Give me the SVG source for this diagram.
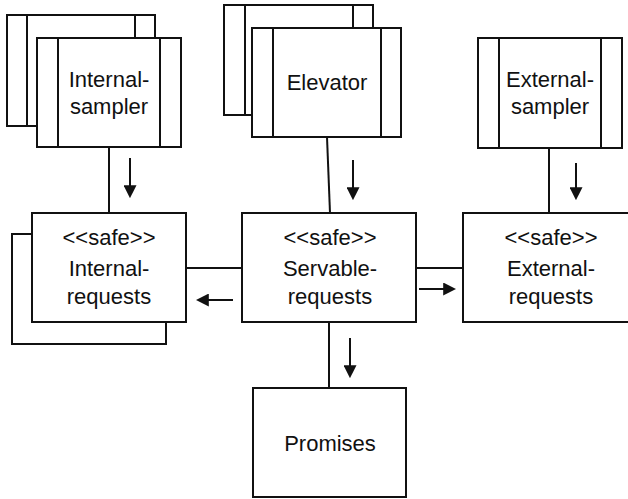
<svg xmlns="http://www.w3.org/2000/svg" width="628" height="499" viewBox="0 0 628 499">
  <style>
    .box { fill: #fff; stroke: #111; stroke-width: 2; }
    .edge { fill: none; stroke: #111; stroke-width: 2; }
    .flow { fill: none; stroke: #111; stroke-width: 2; marker-end: url(#head); }
    text { font-family: "Liberation Sans", Arial, sans-serif; font-size: 22px; fill: #111; text-anchor: middle; }
  </style>
  <defs>
    <marker id="head" viewBox="0 0 12 12" refX="10" refY="6" markerWidth="6.5" markerHeight="6.5" markerUnits="strokeWidth" orient="auto">
      <path d="M0,0 L12,6 L0,12 Z" fill="#111"/>
    </marker>
  </defs>

  <rect width="628" height="499" fill="#fff"/>

  <!-- connectors -->
  <g id="connectors">
    <line class="edge" x1="109" y1="147" x2="109" y2="213"/>
    <line class="edge" x1="327" y1="137" x2="330" y2="213"/>
    <line class="edge" x1="549" y1="148" x2="549" y2="213"/>
    <line class="edge" x1="186" y1="268" x2="242" y2="268"/>
    <line class="edge" x1="416" y1="268" x2="463" y2="268"/>
    <line class="edge" x1="329" y1="322" x2="329" y2="388"/>
    <line class="flow" x1="130" y1="158" x2="130" y2="196"/>
    <line class="flow" x1="353" y1="160" x2="353" y2="198"/>
    <line class="flow" x1="576" y1="163" x2="576" y2="198"/>
    <line class="flow" x1="233" y1="300" x2="198" y2="300"/>
    <line class="flow" x1="419" y1="289" x2="454" y2="289"/>
    <line class="flow" x1="350" y1="338" x2="350" y2="376"/>
  </g>

  <!-- active class: Internal-sampler (stacked) -->
  <g id="internal-sampler">
    <rect class="box" x="7" y="15" width="148" height="111"/>
    <line class="edge" x1="27" y1="15" x2="27" y2="126"/>
    <line class="edge" x1="135" y1="15" x2="135" y2="126"/>
    <rect class="box" x="37" y="38" width="144" height="109"/>
    <line class="edge" x1="58" y1="38" x2="58" y2="147"/>
    <line class="edge" x1="160" y1="38" x2="160" y2="147"/>
    <text x="109" y="87">Internal-</text>
    <text x="109" y="114">sampler</text>
  </g>

  <!-- active class: Elevator (stacked) -->
  <g id="elevator">
    <rect class="box" x="224" y="5" width="149" height="110"/>
    <line class="edge" x1="245" y1="5" x2="245" y2="115"/>
    <line class="edge" x1="353" y1="5" x2="353" y2="115"/>
    <rect class="box" x="252" y="28" width="149" height="109"/>
    <line class="edge" x1="273" y1="28" x2="273" y2="137"/>
    <line class="edge" x1="381" y1="28" x2="381" y2="137"/>
    <text x="327" y="90">Elevator</text>
  </g>

  <!-- active class: External-sampler -->
  <g id="external-sampler">
    <rect class="box" x="478" y="38" width="144" height="110"/>
    <line class="edge" x1="499" y1="38" x2="499" y2="148"/>
    <line class="edge" x1="601" y1="38" x2="601" y2="148"/>
    <text x="550" y="87">External-</text>
    <text x="550" y="114">sampler</text>
  </g>

  <!-- passive class: Internal-requests (stacked) -->
  <g id="internal-requests">
    <rect class="box" x="12" y="234" width="154" height="110"/>
    <rect class="box" x="32" y="213" width="154" height="109"/>
    <text x="109" y="245">&lt;&lt;safe&gt;&gt;</text>
    <text x="109" y="276">Internal-</text>
    <text x="109" y="304">requests</text>
  </g>

  <!-- passive class: Servable-requests -->
  <g id="servable-requests">
    <rect class="box" x="242" y="213" width="174" height="109"/>
    <text x="330" y="245">&lt;&lt;safe&gt;&gt;</text>
    <text x="330" y="276">Servable-</text>
    <text x="330" y="304">requests</text>
  </g>

  <!-- passive class: External-requests -->
  <g id="external-requests">
    <rect class="box" x="463" y="213" width="180" height="109"/>
    <text x="551" y="245">&lt;&lt;safe&gt;&gt;</text>
    <text x="551" y="276">External-</text>
    <text x="551" y="304">requests</text>
  </g>

  <!-- passive class: Promises -->
  <g id="promises">
    <rect class="box" x="253" y="388" width="153" height="109"/>
    <text x="330" y="451">Promises</text>
  </g>
</svg>
